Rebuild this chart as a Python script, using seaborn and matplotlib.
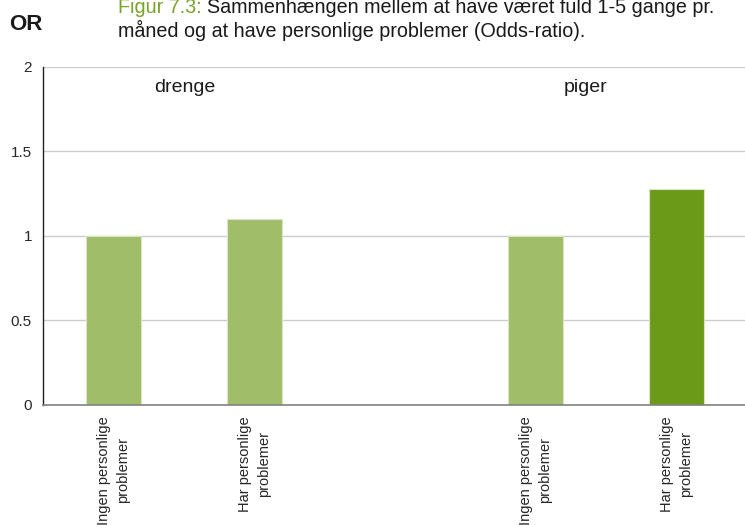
import numpy as np
import pandas as pd
import matplotlib
matplotlib.use("Agg")
import matplotlib.pyplot as plt
import seaborn as sns

# ===== Data =====
slots = ["drenge_ingen", "drenge_har", "tom", "piger_ingen", "piger_har"]
tick_labels = ["Ingen personlige\nproblemer", "Har personlige\nproblemer", "",
               "Ingen personlige\nproblemer", "Har personlige\nproblemer"]
odds_ratio = [1.0, 1.1, np.nan, 1.0, 1.28]
bar_colors = ["#a0bd69", "#a0bd69", "#a0bd69", "#a0bd69", "#6b9a18"]
groups = ["drenge", "piger"]
group_pos = [0.51, 3.35]

df = pd.DataFrame({"slot": slots, "OR": odds_ratio})

sns.set_style("white")
plt.rcParams["font.family"] = ["Liberation Sans", "DejaVu Sans"]

fig = plt.figure(figsize=(7.45, 5.25), dpi=100)
ax = fig.add_axes([0.0577, 0.2286, 0.945, 0.6438])

sns.barplot(data=df, x="slot", y="OR", hue="slot", order=slots, hue_order=slots,
            palette=dict(zip(slots, bar_colors)), width=0.39, legend=False, saturation=1,
            edgecolor="#d9e5c4", linewidth=0.8, ax=ax, zorder=3)

ax.set_xlim(-0.5, 4.5)
ax.set_ylim(0, 2)
ax.set_yticks([0, 0.5, 1, 1.5, 2])
ax.set_yticklabels(["0", "0.5", "1", "1.5", "2"])
ax.set_xticks(range(len(slots)))
ax.set_xticklabels(tick_labels, rotation=90, ha="center", va="top",
                   fontsize=10.5, multialignment="center", linespacing=1.45)
ax.set_xticks(np.arange(-0.5, 5, 1), minor=True)
ax.tick_params(axis="x", which="major", length=0, pad=8)
ax.tick_params(axis="x", which="minor", length=6, width=1, color="#808080", direction="out")
ax.tick_params(axis="y", length=5, width=1, color="#404040", direction="out",
               labelsize=11, pad=3)
ax.set_xlabel("")
ax.set_ylabel("")

for y in [0.5, 1, 1.5, 2]:
    ax.axhline(y, color="#cccccc", linewidth=1, zorder=1)

for s in ["top", "right"]:
    ax.spines[s].set_visible(False)
ax.spines["left"].set_color("#202020")
ax.spines["left"].set_linewidth(1)
ax.spines["bottom"].set_color("#808080")
ax.spines["bottom"].set_linewidth(1.2)
ax.spines["bottom"].set_zorder(4)

for g, x in zip(groups, group_pos):
    ax.text(x, 1.88, g, fontsize=14, ha="center", va="center", color="#1a1a1a")

# title
fig.text(0.012, 0.953, "OR", fontsize=16, fontweight="bold", va="center", color="#1a1a1a")
t1 = fig.text(118 / 745, 1 - 13 / 525, "Figur 7.3: ", fontsize=14.2, color="#7aa22c", va="baseline")
fig.canvas.draw()
bb = t1.get_window_extent()
fig.text(bb.x1 / fig.bbox.width, 1 - 13 / 525,
         "Sammenhængen mellem at have været fuld 1-5 gange pr.",
         fontsize=14.2, color="#1a1a1a", va="baseline")
fig.text(118 / 745, 1 - 37 / 525,
         "måned og at have personlige problemer (Odds-ratio).",
         fontsize=14.2, color="#1a1a1a", va="baseline")

fig.savefig("out.png", dpi=100)
